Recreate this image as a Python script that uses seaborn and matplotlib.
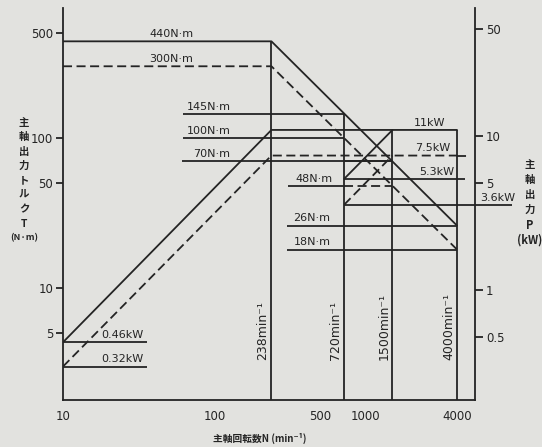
# Spindle output torque / power diagram (log-log, two y axes).

import seaborn as sns
import pandas as pd
import matplotlib.pyplot as plt
from matplotlib.ticker import NullLocator, FixedLocator, FixedFormatter

sns.set_theme(style="white")

ink = "#242424"
paper = "#e2e2df"
lw = 1.3
dash = (0, (5, 2.5))
cjk = ["Noto Sans CJK JP", "DejaVu Sans"]

plt.rcParams["font.family"] = ["DejaVu Sans", "Noto Sans CJK JP"]
plt.rcParams["figure.facecolor"] = paper
plt.rcParams["axes.facecolor"] = paper
plt.rcParams["text.color"] = ink

# Main characteristic curves: speed (min^-1) vs torque (N·m) and power (kW).
speed_main = [10, 238, 4000]
torque_cont = [440, 440, 26]
torque_short = [300, 300, 18]
power_cont = [0.46, 11, 11]
power_short = [0.32, 7.5, 7.5]

# High speed range.
speed_high = [720, 1500]
torque_high_cont = [70, 70]
torque_high_short = [48, 48]
power_high_cont = [5.3, 11]
power_high_short = [3.6, 7.5]

# Marked speeds with vertical lines; the top of each line (torque or power).
speed_marks = [238, 720, 1500, 4000]
mark_tops = [440, 145, 11, 11]
mark_on_power = [False, False, True, True]

# Torque labels and their leader lines.
torque_labels = ["440N·m", "300N·m", "145N·m", "100N·m", "70N·m", "48N·m", "26N·m", "18N·m"]
torque_values = [440, 300, 145, 100, 70, 48, 26, 18]
torque_from = [None, None, 62, 62, 61, 306, 300, 300]
torque_to = [None, None, 720, 720, 1500, 720, 4000, 4000]
torque_label_at = [52, 52, 92, 92, 96, 455, 440, 440]

# Power labels and their leader lines.
power_labels = ["11kW", "7.5kW", "5.3kW", "3.6kW", "0.46kW", "0.32kW"]
power_values = [11, 7.5, 5.3, 3.6, 0.46, 0.32]
power_from = [None, 4000, 720, 720, 10, 10]
power_to = [None, 4800, 4520, 9250, 36, 36]
power_dashed = [False, True, False, False, False, False]
power_label_at = [2650, 2780, 2950, 7400, 24.5, 24.5]

x_ticks = [10, 100, 500, 1000, 4000]
torque_ticks = [5, 10, 50, 100, 500]
power_ticks = [0.5, 1, 5, 10, 50]
power_tick_labels = ["0.5", "1", "5", "10", "50"]

fig = plt.figure(figsize=(5.42, 4.47), dpi=100)
ax = fig.add_axes([63 / 542, 47 / 447, 412 / 542, 392 / 447])
ax2 = ax.twinx()
ax.set_xscale("log")
ax.set_yscale("log")
ax2.set_yscale("log")


def curve(a, xs, ys, dashed):
    sns.lineplot(x=xs, y=ys, ax=a, color=ink, lw=lw, linestyle=dash if dashed else "-",
                 estimator=None, sort=False, legend=False)


curve(ax, speed_main, torque_cont, False)
curve(ax, speed_main, torque_short, True)
curve(ax2, speed_main, power_cont, False)
curve(ax2, speed_main, power_short, True)
curve(ax, speed_high, torque_high_cont, False)
curve(ax, speed_high, torque_high_short, True)
curve(ax2, speed_high, power_high_cont, False)
curve(ax2, speed_high, power_high_short, True)

ax.set_xlim(10, 5260)
ax.set_ylim(1.786, 734)
ax2.set_ylim(0.194, 68.1)

# Vertical speed lines with their rotated labels.
for n, top, on_power in zip(speed_marks, mark_tops, mark_on_power):
    a = ax2 if on_power else ax
    a.vlines(n, a.get_ylim()[0], top, color=ink, lw=lw)
    ax.annotate(f"{n}min⁻¹", xy=(n, 0.102), xycoords=ax.get_xaxis_transform(),
                xytext=(-1.5, 0), textcoords="offset points", rotation=90,
                ha="right", va="bottom", fontsize=9, color=ink)

# Torque leaders and labels.
for lab, v, x0, x1, xl in zip(torque_labels, torque_values, torque_from, torque_to, torque_label_at):
    if x0 is not None:
        ax.hlines(v, x0, x1, color=ink, lw=lw)
    ax.annotate(lab, xy=(xl, v), xytext=(0, 1.5), textcoords="offset points",
                ha="center", va="bottom", fontsize=8, color=ink)

# Power leaders and labels.
for lab, v, x0, x1, d, xl in zip(power_labels, power_values, power_from, power_to, power_dashed, power_label_at):
    if x0 is not None:
        ax2.hlines(v, x0, x1, color=ink, lw=lw, linestyle=dash if d else "-", clip_on=False)
    ax2.annotate(lab, xy=(xl, v), xytext=(0, 1.5), textcoords="offset points",
                 ha="center", va="bottom", fontsize=8, color=ink, annotation_clip=False)

# Axes, ticks and spines.
ax.xaxis.set_major_locator(FixedLocator(x_ticks))
ax.xaxis.set_major_formatter(FixedFormatter([str(t) for t in x_ticks]))
ax.xaxis.set_minor_locator(NullLocator())
ax.yaxis.set_major_locator(FixedLocator(torque_ticks))
ax.yaxis.set_major_formatter(FixedFormatter([str(t) for t in torque_ticks]))
ax.yaxis.set_minor_locator(NullLocator())
ax2.yaxis.set_major_locator(FixedLocator(power_ticks))
ax2.yaxis.set_major_formatter(FixedFormatter(power_tick_labels))
ax2.yaxis.set_minor_locator(NullLocator())

ax.tick_params(axis="both", direction="out", length=5, width=lw, labelsize=8.5, colors=ink, pad=2)
ax2.tick_params(axis="y", direction="out", length=6, width=lw, labelsize=8.5, colors=ink, pad=2)
ax.set_xlabel("")
ax.set_ylabel("")
ax2.set_ylabel("")

for side in ["top", "right"]:
    ax.spines[side].set_visible(False)
for side in ["top", "left", "bottom"]:
    ax2.spines[side].set_visible(False)
for s in [ax.spines["left"], ax.spines["bottom"], ax2.spines["right"]]:
    s.set_color(ink)
    s.set_linewidth(lw)

# Stacked vertical axis titles.
left_title = ["主", "軸", "出", "力", "ト", "ル", "ク", "T", "(N·m)"]
for i, ch in enumerate(left_title):
    fig.text(24 / 542, 1 - (123 + i * 14.4) / 447, ch, ha="center", va="center",
             fontsize=7.5 if i < 8 else 6.5, family=cjk, fontweight="bold", color=ink)

right_title = ["主", "軸", "出", "力", "P", "(kW)"]
for i, ch in enumerate(right_title):
    fig.text(530 / 542, 1 - (165 + i * 15) / 447, ch, ha="center", va="center",
             fontsize=7.5 if i < 4 else 8, family=cjk, fontweight="bold", color=ink)

fig.text(260 / 542, 1 - 438 / 447, "主軸回転数N (min⁻¹)", ha="center", va="center",
         fontsize=7, family=cjk, fontweight="bold", color=ink)

plt.savefig("out.png", dpi=100, facecolor=paper)
